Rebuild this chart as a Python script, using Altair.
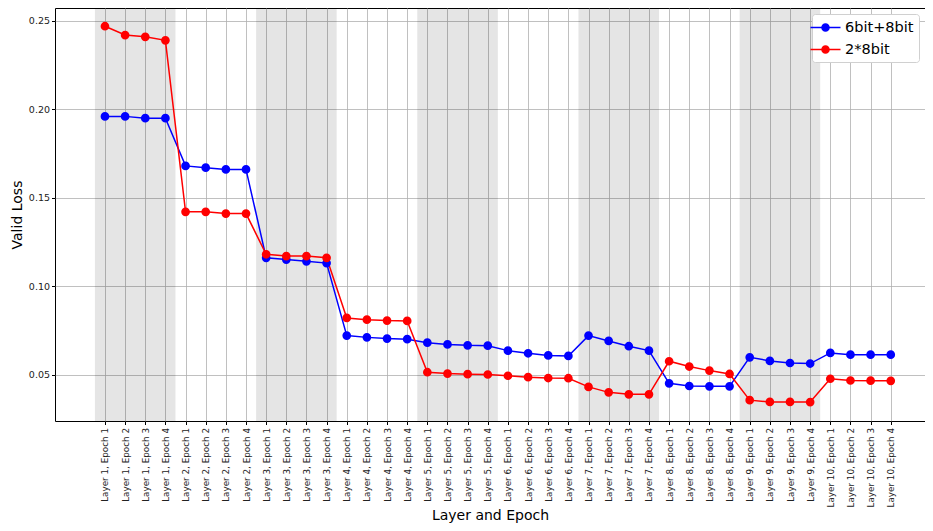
import altair as alt
import pandas as pd

layers = [1, 2, 3, 4, 5, 6, 7, 8, 9, 10]
epochs = [1, 2, 3, 4]
labels = [f"Layer {l}, Epoch {e}" for l in layers for e in epochs]

series_names = ["6bit+8bit", "2*8bit"]
blue_vals = [0.196, 0.196, 0.195, 0.195,
             0.168, 0.167, 0.166, 0.166,
             0.116, 0.115, 0.114, 0.113,
             0.072, 0.071, 0.0703, 0.070,
             0.068, 0.067, 0.0665, 0.0663,
             0.0635, 0.062, 0.0608, 0.0605,
             0.072, 0.069, 0.066, 0.0635,
             0.045, 0.0435, 0.0433, 0.0433,
             0.0597, 0.0577, 0.0565, 0.0562,
             0.0622, 0.0612, 0.0612, 0.0612]
red_vals = [0.247, 0.242, 0.241, 0.239,
            0.142, 0.142, 0.141, 0.141,
            0.118, 0.117, 0.117, 0.116,
            0.082, 0.081, 0.0805, 0.0803,
            0.0513, 0.0505, 0.0502, 0.050,
            0.0493, 0.0485, 0.048, 0.0479,
            0.0430, 0.0399, 0.0388, 0.0388,
            0.0575, 0.0545, 0.0522, 0.0503,
            0.0355, 0.0345, 0.0345, 0.0344,
            0.0476, 0.0466, 0.0465, 0.0464]
shaded_layers = [1, 3, 5, 7, 9]

rows = []
for i, lab in enumerate(labels):
    rows.append({"idx": i, "label": lab, "series": series_names[0], "value": blue_vals[i]})
    rows.append({"idx": i, "label": lab, "series": series_names[1], "value": red_vals[i]})
df = pd.DataFrame(rows)

shade_df = pd.DataFrame({
    "start": [(l - 1) * len(epochs) - 0.5 for l in shaded_layers],
    "end": [(l - 1) * len(epochs) + len(epochs) - 0.5 for l in shaded_layers],
})

W, H = 870, 413
label_expr = "[" + ",".join("'" + s + "'" for s in labels) + "][datum.value]"

xscale = alt.Scale(domain=[-2.48, 40.7], nice=False, zero=False)
yscale = alt.Scale(domain=[0.0237, 0.2573], nice=False, zero=False)

xaxis = alt.Axis(values=list(range(len(labels))), labelExpr=label_expr, labelAngle=-90,
                 title="Layer and Epoch", grid=True)
yaxis = alt.Axis(values=[0.05, 0.10, 0.15, 0.20, 0.25], format=".2f", title="Valid Loss", grid=True)

color_scale = alt.Scale(domain=series_names, range=["#0000ff", "#ff0000"])
legend = alt.Legend(title=None, orient="none", legendX=757, legendY=6,
                    symbolType="M-2,0H2M0.47,0A0.47,0.47,0,1,1,-0.47,0A0.47,0.47,0,1,1,0.47,0",
                    symbolSize=225, symbolStrokeWidth=1.5, labelFontSize=14.5, labelFont="DejaVu Sans",
                    fillColor="white", strokeColor="#d0d0d0", padding=5, cornerRadius=3,
                    rowPadding=6, labelOffset=11, labelColor="#000")

shade = alt.Chart(shade_df).mark_rect(color="#000000", opacity=0.1).encode(
    x=alt.X("start:Q", scale=xscale, axis=xaxis),
    x2="end:Q",
    y=alt.value(0),
    y2=alt.value(H),
)

line = alt.Chart(df).mark_line(strokeWidth=1.5).encode(
    x=alt.X("idx:Q", scale=xscale, axis=xaxis),
    y=alt.Y("value:Q", scale=yscale, axis=yaxis),
    stroke=alt.Stroke("series:N", scale=color_scale, legend=legend, sort=series_names),
    order="idx:Q",
)

pts = alt.Chart(df).mark_point(filled=True, size=45, opacity=1).encode(
    x=alt.X("idx:Q", scale=xscale, axis=xaxis),
    y=alt.Y("value:Q", scale=yscale, axis=yaxis),
    fill=alt.Fill("series:N", scale=color_scale, legend=legend, sort=series_names),
    stroke=alt.Stroke("series:N", scale=color_scale, legend=legend, sort=series_names),
)

chart = alt.layer(shade, line, pts).properties(
    width=W, height=H,
    autosize=alt.AutoSizeParams(type="none"),
    padding={"left": 47, "top": 0, "right": 0, "bottom": 102},
).configure_view(stroke="#000000", strokeWidth=1).configure_axis(
    labelFont="DejaVu Sans", titleFont="DejaVu Sans", labelFontSize=9.5, titleFontSize=14,
    labelColor="#222", titleColor="#000", titleFontWeight="normal",
    gridColor="#b0b0b0", gridWidth=0.8, domain=False, tickColor="#000", tickSize=3.5,
).configure_axisY(titlePadding=4).configure_axisX(titlePadding=2, labelPadding=3, labelFontSize=8.8)

chart.save("out.html", embed_options={"renderer": "svg", "actions": False})
